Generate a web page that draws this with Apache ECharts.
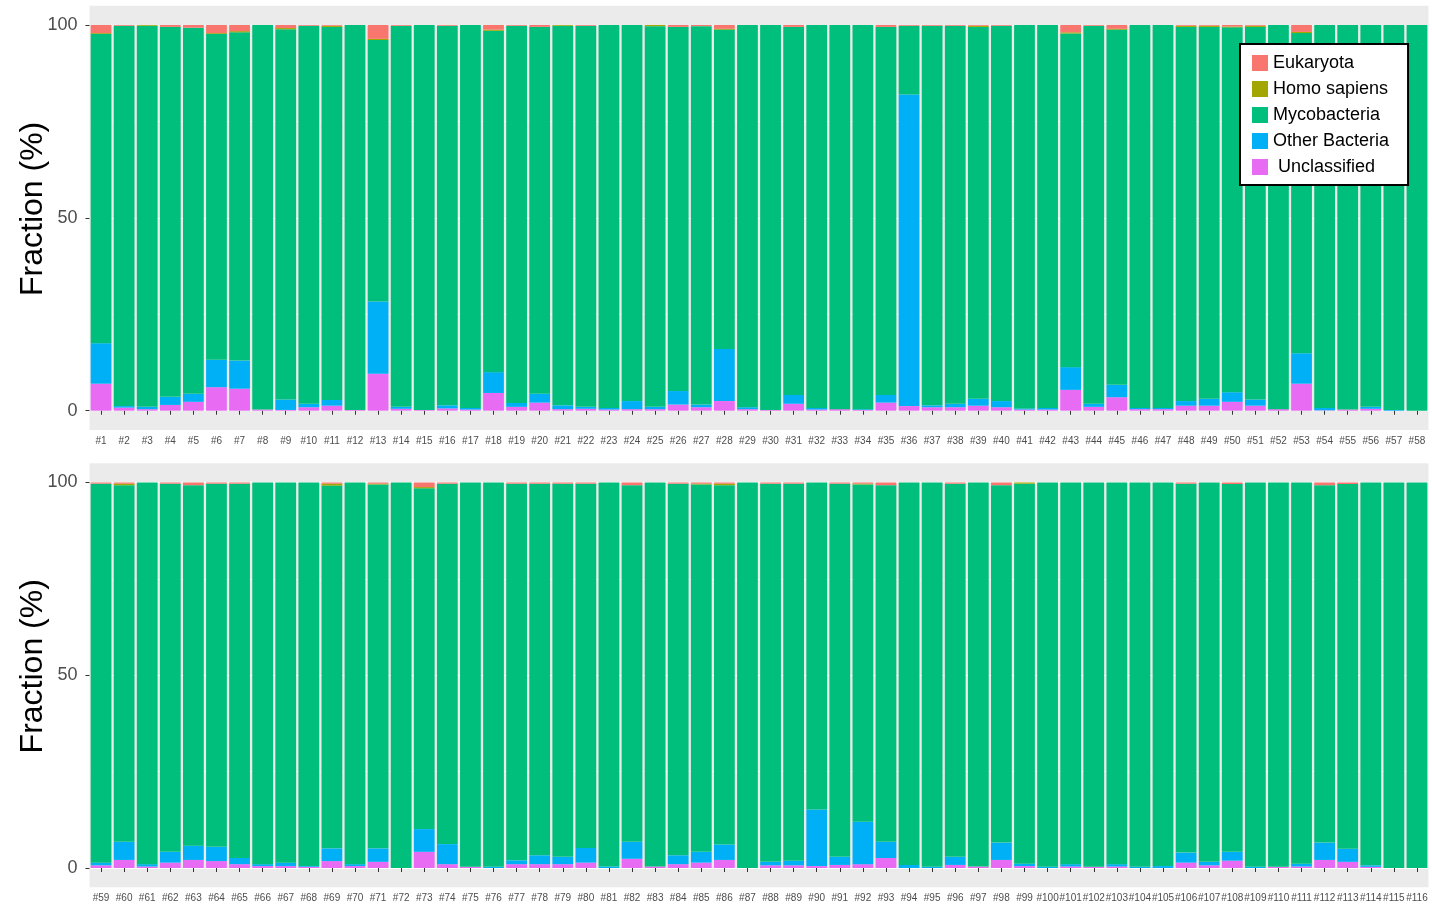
<!DOCTYPE html>
<html>
<head>
<meta charset="utf-8">
<script src="https://cdn.jsdelivr.net/npm/echarts@6/dist/echarts.min.js"></script>
<style>
  html, body { margin: 0; padding: 0; background: #ffffff; }
  #chart { width: 1432px; height: 909px; }
</style>
</head>
<body>
<div id="chart"></div>
<script>
// Sample labels #1 .. #116
const sampleIds = Array.from({ length: 116 }, (_, i) => '#' + (i + 1));

// Read fractions (%) per sample, samples #1..#116
const unclassified = [
  7.0, 0.8, 0.4, 1.5, 2.3, 6.1, 5.7, 0.3, 0.2, 0.9,
  1.3, 0.2, 9.6, 0.5, 0.2, 0.6, 0.3, 4.6, 1.0, 2.1,
  0.4, 0.5, 0.3, 0.4, 0.4, 1.6, 0.9, 2.5, 0.4, 0.2,
  1.8, 0.3, 0.4, 0.2, 2.1, 1.2, 0.9, 0.9, 1.3, 0.9,
  0.3, 0.3, 5.4, 1.0, 3.5, 0.4, 0.4, 1.3, 1.3, 2.3,
  1.3, 0.4, 7.0, 0.1, 0.3, 0.5, 0, 0,
  0.7, 2.1, 0.4, 1.4, 2.1, 1.8, 1.0, 0.5, 0.5, 0.3,
  1.8, 0.5, 1.6, 0, 4.2, 1.0, 0.3, 0, 1.0, 1.0,
  1.0, 1.4, 0, 2.4, 0.4, 1.0, 1.4, 2.1, 0, 0.7,
  0.7, 0.5, 0.8, 1.0, 2.6, 0, 0, 0.8, 0.4, 2.1,
  0.5, 0, 0.4, 0.3, 0.4, 0, 0, 1.4, 0.7, 1.9,
  0, 0.3, 0.4, 2.1, 1.6, 0.3, 0, 0
];
const otherBacteria = [
  10.5, 0.4, 0.6, 2.1, 2.1, 7.1, 7.3, 0, 2.7, 0.9,
  1.5, 0, 18.7, 0.5, 0, 0.8, 0.4, 5.4, 1.0, 2.3,
  1.0, 0.5, 0.4, 2.1, 0.6, 3.5, 0.7, 13.5, 0.5, 0,
  2.3, 0.4, 0, 0.2, 2.0, 80.8, 0.5, 0.9, 1.8, 1.6,
  0.3, 0.4, 5.9, 0.8, 3.2, 0.3, 0.3, 1.2, 1.8, 2.5,
  1.6, 0, 7.9, 0.6, 0, 0.5, 0.2, 0,
  0.7, 4.7, 0.6, 2.8, 3.7, 3.7, 1.6, 0.5, 0.9, 0.2,
  3.3, 0.5, 3.5, 0, 5.9, 5.2, 0, 0.3, 1.0, 2.3,
  1.9, 3.8, 0.4, 4.4, 0, 2.3, 2.8, 4.0, 0, 0.9,
  1.2, 14.7, 2.1, 11.0, 4.2, 0.8, 0.3, 2.1, 0, 4.5,
  0.6, 0.3, 0.6, 0, 0.6, 0.3, 0.5, 2.6, 0.9, 2.3,
  0.3, 0, 0.7, 4.5, 3.4, 0.4, 0, 0
];
const mycobacteria = [
  80.2, 98.6, 98.8, 95.9, 94.9, 84.5, 85.1, 99.7, 96.0, 98.0,
  96.7, 99.8, 67.8, 98.8, 99.8, 98.4, 99.3, 88.5, 97.8, 95.1,
  98.4, 98.8, 99.3, 97.5, 98.7, 94.4, 98.1, 82.8, 99.1, 99.8,
  95.4, 99.3, 99.6, 99.6, 95.4, 17.8, 98.4, 98.0, 96.4, 97.3,
  99.4, 99.3, 86.5, 98.0, 92.1, 99.3, 99.3, 97.0, 96.4, 94.6,
  96.6, 99.6, 83.0, 99.3, 99.7, 99.0, 99.8, 100,
  98.3, 92.5, 99.0, 95.5, 93.5, 94.2, 97.1, 99.0, 98.6, 99.5,
  94.1, 99.0, 94.4, 100, 88.4, 93.5, 99.7, 99.7, 97.7, 96.4,
  96.8, 94.5, 99.6, 92.5, 99.6, 96.4, 95.3, 93.2, 100, 98.1,
  97.8, 84.8, 96.8, 87.5, 92.5, 99.2, 99.7, 96.8, 99.6, 92.7,
  98.6, 99.7, 99.0, 99.7, 99.0, 99.7, 99.5, 95.7, 98.4, 95.4,
  99.7, 99.7, 98.9, 92.7, 94.6, 99.3, 100, 100
];
const homoSapiens = [
  0.2, 0, 0.2, 0, 0, 0.2, 0.3, 0, 0.3, 0,
  0.3, 0, 0.3, 0, 0, 0, 0, 0.3, 0, 0,
  0.2, 0, 0, 0, 0.3, 0, 0, 0.2, 0, 0,
  0, 0, 0, 0, 0, 0, 0, 0, 0.3, 0,
  0, 0, 0.3, 0, 0.2, 0, 0, 0.3, 0.3, 0.2,
  0.3, 0, 0.3, 0, 0, 0, 0, 0,
  0, 0.4, 0, 0, 0, 0, 0, 0, 0, 0,
  0.5, 0, 0.2, 0, 0.3, 0, 0, 0, 0, 0,
  0, 0, 0, 0, 0, 0, 0.2, 0.4, 0, 0,
  0, 0, 0, 0.2, 0, 0, 0, 0, 0, 0,
  0.3, 0, 0, 0, 0, 0, 0, 0, 0, 0,
  0, 0, 0, 0, 0, 0, 0, 0
];
const eukaryota = [
  2.1, 0.2, 0, 0.5, 0.7, 2.1, 1.6, 0, 0.8, 0.2,
  0.2, 0, 3.6, 0.2, 0, 0.2, 0, 1.2, 0.2, 0.5,
  0, 0.2, 0, 0, 0, 0.5, 0.3, 1.0, 0, 0,
  0.5, 0, 0, 0, 0.5, 0.2, 0.2, 0.2, 0.2, 0.2,
  0, 0, 1.9, 0.2, 1.0, 0, 0, 0.2, 0.2, 0.4,
  0.2, 0, 1.8, 0, 0, 0, 0, 0,
  0.3, 0.3, 0, 0.3, 0.7, 0.3, 0.3, 0, 0, 0,
  0.3, 0, 0.3, 0, 1.2, 0.3, 0, 0, 0.3, 0.3,
  0.3, 0.3, 0, 0.7, 0, 0.3, 0.3, 0.3, 0, 0.3,
  0.3, 0, 0.3, 0.3, 0.7, 0, 0, 0.3, 0, 0.7,
  0, 0, 0, 0, 0, 0, 0, 0.3, 0, 0.4,
  0, 0, 0, 0.7, 0.4, 0, 0, 0
];

const yTickValues = [0, 50, 100];
const legendOrder = ['Eukaryota', 'Homo sapiens', 'Mycobacteria', 'Other Bacteria', 'Unclassified'];

// Stack order, bottom to top
const layers = [
  { name: 'Unclassified',   values: unclassified,  color: '#E76BF3' },
  { name: 'Other Bacteria', values: otherBacteria, color: '#00B0F6' },
  { name: 'Mycobacteria',   values: mycobacteria,  color: '#00BF7D' },
  { name: 'Homo sapiens',   values: homoSapiens,   color: '#A3A500' },
  { name: 'Eukaryota',      values: eukaryota,     color: '#F8766D' }
];

const FONT = '"Liberation Sans", Arial, Helvetica, sans-serif';
const panels = [
  { start: 0,  end: 58,  grid: { left: 89.5, right: 3.5, top: 5.7,   bottom: 479 } },
  { start: 58, end: 116, grid: { left: 89.5, right: 3.5, top: 463.2, bottom: 21.7 } }
];

// ggplot-like white grid: major at 0/50/100, thinner minor at 25/75
const MAJ = '#FFFFFF', MIN = 'rgba(255,255,255,0.55)', NONE = 'rgba(0,0,0,0)';
const gridLineColors = [NONE, MAJ, NONE, NONE, NONE, NONE, MIN, NONE, NONE, NONE];

const grids = [], xAxes = [], yAxes = [], series = [];
panels.forEach((p, i) => {
  grids.push(Object.assign({
    show: true, backgroundColor: '#EBEBEB', borderWidth: 0,
    containLabel: false, outerBoundsMode: 'none'
  }, p.grid));

  xAxes.push({
    gridIndex: i, type: 'category',
    data: sampleIds.slice(p.start, p.end),
    axisLine: { show: false },
    axisTick: { show: true, alignWithLabel: true, length: 4, lineStyle: { color: '#333333', width: 1 } },
    axisLabel: { interval: 0, fontSize: 10, color: '#4D4D4D', margin: 6, fontFamily: FONT },
    splitLine: { show: false }
  });

  // visible axis: ticks, labels, title
  yAxes.push({
    gridIndex: i, type: 'value', min: -5, max: 105, interval: 5, position: 'left',
    axisLine: { show: false },
    axisTick: { show: true, length: 4, customValues: yTickValues, lineStyle: { color: '#333333', width: 1 } },
    axisLabel: {
      customValues: yTickValues, fontSize: 18, color: '#4D4D4D', margin: 12, fontFamily: FONT,
      formatter: v => (yTickValues.indexOf(v) >= 0 ? String(v) : '')
    },
    splitLine: { show: false },
    name: 'Fraction (%)', nameLocation: 'middle', nameGap: 40, nameMoveOverlap: false,
    nameTextStyle: { fontSize: 32, color: '#000000', fontFamily: FONT, padding: [0, 0, 0, 18] }
  });
  // companion axis carrying only the panel grid lines
  yAxes.push({
    gridIndex: i, type: 'value', min: -5, max: 105, interval: 5, position: 'right',
    axisLine: { show: false }, axisTick: { show: false }, axisLabel: { show: false },
    splitLine: { show: true, lineStyle: { color: gridLineColors, width: 1 } }
  });

  layers.forEach(layer => {
    series.push({
      name: layer.name, type: 'bar', stack: 'panel' + i,
      xAxisIndex: i, yAxisIndex: i * 2,
      barCategoryGap: '10%',
      itemStyle: { color: layer.color },
      emphasis: { disabled: true },
      data: layer.values.slice(p.start, p.end)
    });
  });
});

const chart = echarts.init(document.getElementById('chart'), null, { renderer: 'canvas' });
chart.setOption({
  animation: false,
  textStyle: { fontFamily: FONT },
  color: layers.map(l => l.color),
  grid: grids,
  xAxis: xAxes,
  yAxis: yAxes,
  legend: {
    data: legendOrder,
    orient: 'vertical',
    left: 1240, top: 44,
    backgroundColor: '#FFFFFF',
    borderColor: '#000000', borderWidth: 2,
    padding: [10, 19, 9, 12],
    itemGap: 8, itemWidth: 16, itemHeight: 16,
    icon: 'rect',
    selectedMode: false,
    formatter: name => (name === 'Unclassified' ? ' ' + name : name),
    textStyle: { fontSize: 18, color: '#000000', lineHeight: 18, fontFamily: FONT }
  },
  series: series
});
</script>
</body>
</html>
